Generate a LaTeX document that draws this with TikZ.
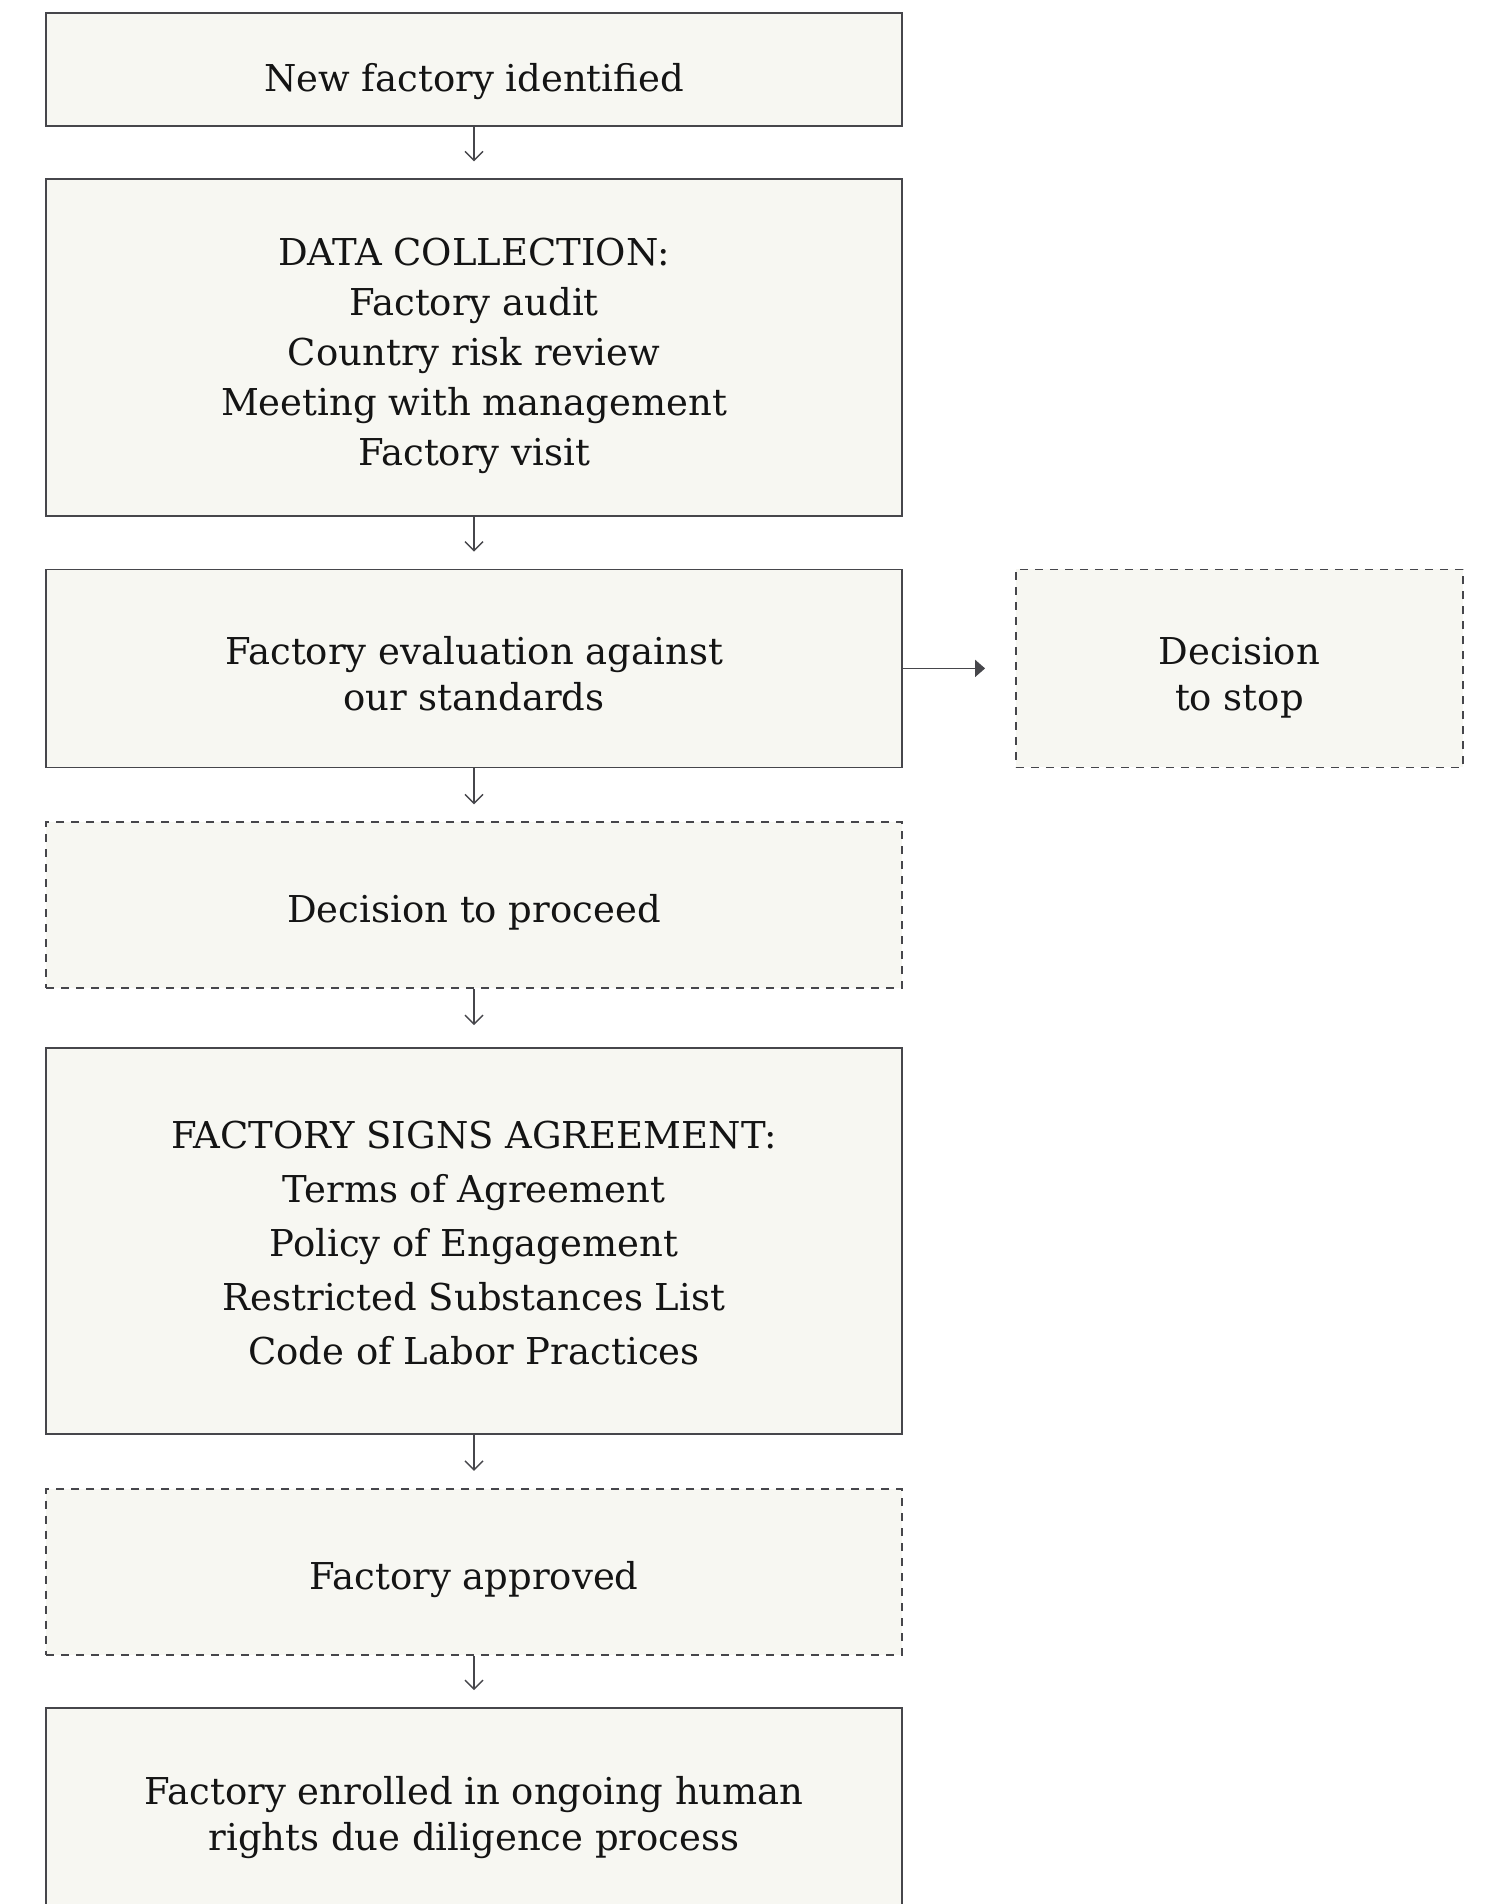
\documentclass[tikz,border=0pt]{standalone}
\usepackage{fontspec}
\setmainfont{DejaVu Serif}
\usetikzlibrary{arrows.meta}
\definecolor{boxFill}{RGB}{247,247,242}
\definecolor{boxStroke}{RGB}{70,70,75}
\colorlet{ink}{black!92}
\newcommand{\boxfont}[1]{\fontsize{37}{#1}\selectfont}
\tikzset{
  flow/.style={-{Straight Barb[length=9pt,width=18pt]}, draw=boxStroke, line width=1.4pt, shorten >=17pt},
  sidearrow/.style={-{Triangle[length=10pt,width=17pt]}, draw=boxStroke, line width=1.6pt, shorten >=30pt},
  stagebox/.style={
    draw=boxStroke,
    fill=boxFill,
    line width=1.6pt,
    minimum width=856pt,
    inner sep=0pt,
    text depth=0pt,
    align=center,
    text=ink,
    font=\boxfont{46}
  },
  decisionbox/.style={stagebox, dash pattern=on 8pt off 7pt}
}

\begin{document}
\begin{tikzpicture}[x=1pt,y=-1pt]
  \useasboundingbox (0,0) rectangle (1486,1904);

  \node[stagebox, minimum height=113pt, text height=45pt] (identified) at (474,69.4) {New factory identified};
  \node[stagebox, minimum height=337pt, text height=235pt, font=\boxfont{50}] (collection) at (474,347.7) {DATA COLLECTION:\\Factory audit\\Country risk review\\Meeting with management\\Factory visit};
  \node[stagebox, minimum height=198pt, text height=84pt] (evaluation) at (474,668.4) {Factory evaluation against\\our standards};
  \node[decisionbox, minimum width=447pt, minimum height=198pt, text height=84pt] (stop) at (1239.4,668.4) {Decision\\to stop};
  \node[decisionbox, minimum height=166pt, text height=35pt] (proceed) at (474,905.2) {Decision to proceed};
  \node[stagebox, minimum height=386pt, text height=248pt, font=\boxfont{54}] (agreement) at (474,1240.9) {FACTORY SIGNS AGREEMENT:\\Terms of Agreement\\Policy of Engagement\\Restricted Substances List\\Code of Labor Practices};
  \node[decisionbox, minimum height=166pt, text height=35pt] (approved) at (474,1571.7) {Factory approved};
  \node[stagebox, minimum height=210pt, text height=74pt] (enrolled) at (474,1813) {Factory enrolled in ongoing human\\rights due diligence process};

  \draw[flow] (identified) -- (collection);
  \draw[flow] (collection) -- (evaluation);
  \draw[flow] (evaluation) -- (proceed);
  \draw[flow, shorten >=22pt] (proceed) -- (agreement);
  \draw[flow] (agreement) -- (approved);
  \draw[flow] (approved) -- (enrolled);
  \draw[sidearrow] (evaluation) -- (stop);
\end{tikzpicture}
\end{document}
